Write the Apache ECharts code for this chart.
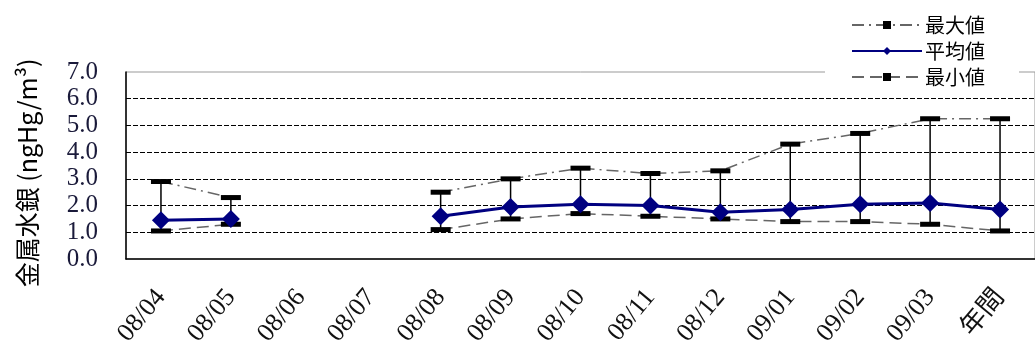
<!DOCTYPE html>
<html lang="ja">
<head>
<meta charset="UTF-8">
<title>金属水銀</title>
<script src="https://cdn.jsdelivr.net/npm/echarts@6/dist/echarts.min.js"></script>
<style>
  html, body { margin: 0; padding: 0; background: #fff; }
  #chart { width: 1035px; height: 358px; }
</style>
</head>
<body>
<div id="chart"></div>
<script>
var months = ['08/04', '08/05', '08/06', '08/07', '08/08', '08/09', '08/10', '08/11', '08/12', '09/01', '09/02', '09/03', '年間'];
var maxVals = [2.9, 2.3, null, null, 2.5, 3.0, 3.4, 3.2, 3.3, 4.3, 4.7, 5.25, 5.25];
var avgVals = [1.45, 1.5, null, null, 1.6, 1.95, 2.05, 2.0, 1.75, 1.85, 2.05, 2.1, 1.85];
var minVals = [1.05, 1.3, null, null, 1.1, 1.5, 1.7, 1.6, 1.5, 1.4, 1.4, 1.3, 1.05];
var yTicks = [0, 1, 2, 3, 4, 5, 6, 7];

var serif = "'Liberation Serif', 'Noto Sans CJK JP', serif";
var cjk = "'Noto Sans CJK JP', sans-serif";

// whisker rows: [index, min, max]
var ranges = [];
for (var i = 0; i < months.length; i++) {
    if (minVals[i] != null && maxVals[i] != null) ranges.push([i, minVals[i], maxVals[i]]);
}

var chart = echarts.init(document.getElementById('chart'));
var option = {
    animation: false,
    backgroundColor: '#fff',
    grid: {
        left: 126, top: 72, width: 923, height: 187,
        show: true, borderColor: '#999', borderWidth: 1, backgroundColor: 'transparent'
    },
    legend: {
        orient: 'vertical',
        right: 16, top: 9,
        padding: [6, 34, 4, 26],
        backgroundColor: '#fff',
        itemWidth: 70, itemHeight: 10, itemGap: 6,
        textStyle: { fontFamily: cjk, fontSize: 20, lineHeight: 20, color: '#000', padding: [0, 0, 0, -2] },
        data: ['最大値', '平均値', '最小値']
    },
    graphic: [{
        type: 'text',
        x: 27, y: 173,
        rotation: Math.PI / 2,
        style: {
            text: '金属水銀 (ngHg/m³)',
            font: "25px 'Noto Sans CJK JP', sans-serif",
            fill: '#000',
            align: 'center',
            verticalAlign: 'middle'
        }
    }],
    xAxis: {
        type: 'category',
        data: months,
        axisLine: { lineStyle: { color: '#000', width: 1.5 } },
        axisTick: { inside: true, length: 10, lineStyle: { color: '#000', width: 1.5 } },
        axisLabel: {
            rotate: 50, margin: 34, interval: 0,
            fontFamily: serif, fontSize: 26, color: '#111'
        },
        splitLine: { show: false }
    },
    yAxis: {
        type: 'value',
        min: yTicks[0], max: yTicks[yTicks.length - 1], interval: 1,
        axisLine: { show: true, lineStyle: { color: '#000', width: 1.5 } },
        axisTick: { show: false },
        axisLabel: {
            margin: 28, fontFamily: serif, fontSize: 25, color: '#1a1a3a',
            formatter: function (v) { return v.toFixed(1); }
        },
        splitLine: {
            show: true, showMinLine: false, showMaxLine: false,
            lineStyle: { color: '#000', width: 1.2, type: [5, 2] }
        }
    },
    series: [
        {
            name: 'range',
            type: 'custom',
            z: 1,
            data: ranges,
            renderItem: function (params, api) {
                var a = api.coord([api.value(0), api.value(1)]);
                var b = api.coord([api.value(0), api.value(2)]);
                return {
                    type: 'line',
                    shape: { x1: a[0], y1: a[1], x2: b[0], y2: b[1] },
                    style: { stroke: '#000', lineWidth: 1.5 }
                };
            }
        },
        {
            name: '最大値',
            type: 'line',
            z: 2,
            data: maxVals,
            symbol: 'rect', symbolSize: [20, 5],
            itemStyle: { color: '#000' },
            lineStyle: { color: '#666', width: 1.5, type: [12, 5, 2, 5] }
        },
        {
            name: '平均値',
            type: 'line',
            z: 3,
            data: avgVals,
            symbol: 'diamond', symbolSize: [18, 18],
            itemStyle: { color: '#000080' },
            lineStyle: { color: '#000080', width: 3 }
        },
        {
            name: '最小値',
            type: 'line',
            z: 2,
            data: minVals,
            symbol: 'rect', symbolSize: [20, 5],
            itemStyle: { color: '#000' },
            lineStyle: { color: '#666', width: 1.5, type: [12, 6] }
        }
    ]
};
chart.setOption(option);
</script>
</body>
</html>
